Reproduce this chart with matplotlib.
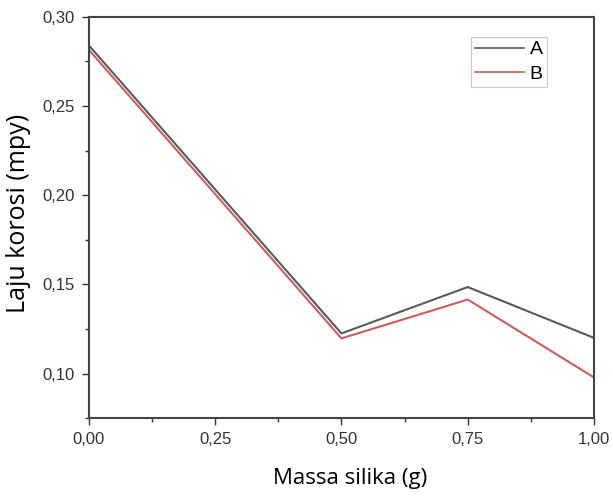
import matplotlib
matplotlib.use("Agg")
import matplotlib.pyplot as plt
from matplotlib.ticker import MultipleLocator, FuncFormatter

x = [0.0, 0.5, 0.75, 1.0]
series_a = [0.284, 0.1225, 0.1485, 0.120]
series_b = [0.2815, 0.1197, 0.1415, 0.0978]
labels = ["A", "B"]

plt.rcParams["font.family"] = ["Liberation Sans", "DejaVu Sans"]

fig = plt.figure(figsize=(6.13, 4.96), dpi=100)
ax = fig.add_axes([0.145, 0.157, 0.824, 0.809])
ax.plot(x, series_a, color="#555a5a", lw=1.5, label=labels[0])
ax.plot(x, series_b, color="#cc5c5c", lw=1.5, label=labels[1])

ax.set_xlim(0, 1.0)
ax.set_ylim(0.075, 0.30)
ax.xaxis.set_major_locator(MultipleLocator(0.25))
ax.xaxis.set_minor_locator(MultipleLocator(0.125))
ax.yaxis.set_major_locator(MultipleLocator(0.05))
ax.yaxis.set_minor_locator(MultipleLocator(0.025))
fmt = FuncFormatter(lambda v, p: f"{v:.2f}".replace(".", ","))
ax.xaxis.set_major_formatter(fmt)
ax.yaxis.set_major_formatter(fmt)
ax.tick_params(which="both", direction="out", top=False, right=False, color="#333333",
               labelsize=12, labelcolor="#333333", width=1)
ax.tick_params(which="major", length=5, pad=5)
ax.tick_params(which="minor", length=3)
for s in ax.spines.values():
    s.set_color("#444444")
    s.set_linewidth(1.5)

ax.set_xlabel("Massa silika (g)", family="Open Sans", fontsize=16)
ax.set_ylabel("Laju korosi (mpy)", family="Open Sans", fontsize=18)
ax.xaxis.set_label_coords(0.517, -0.125)
ax.yaxis.set_label_coords(-0.115, 0.51)

leg = ax.legend(loc="upper right", bbox_to_anchor=(0.906, 0.95), prop={"family": "Liberation Sans", "size": 14},
                frameon=True, fancybox=False, handlelength=2.5, handletextpad=0.3,
                borderpad=0.2, labelspacing=0.35, borderaxespad=0)
leg.get_frame().set_edgecolor("#bbbbbb")
leg.get_frame().set_linewidth(0.8)
for h in leg.get_lines():
    h.set_linewidth(1.2)

fig.savefig("out.png", dpi=100)
